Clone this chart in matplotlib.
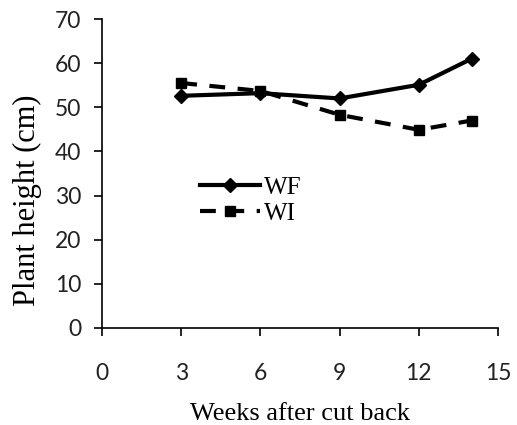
import matplotlib
matplotlib.use("Agg")
import matplotlib.pyplot as plt

weeks = [3, 6, 9, 12, 14]
wf = [52.6, 53.2, 52.0, 55.1, 61.0]
wi = [55.5, 53.7, 48.3, 44.9, 47.0]
xticks = [0, 3, 6, 9, 12, 15]
yticks = [0, 10, 20, 30, 40, 50, 60, 70]

fig = plt.figure(figsize=(5.17, 4.25), dpi=100)
ax = fig.add_axes([102/517, (425-328)/425, 396/517, 309/425])

ax.plot(weeks, wf, color='black', lw=3, marker='D', ms=7, label='WF')
ax.plot(weeks, wi, color='black', lw=3, ls=(0, (3.8, 3)), marker='s', ms=7, label='WI')

ax.set_xlim(0, 15)
ax.set_ylim(0, 70)
ax.set_xticks(xticks)
ax.set_yticks(yticks)
for s in ['top', 'right']:
    ax.spines[s].set_visible(False)
for s in ['left', 'bottom']:
    ax.spines[s].set_linewidth(1.2)
ax.tick_params(direction='out', length=6, width=1.2, labelsize=16.5)
ax.tick_params(axis='x', pad=19)
ax.tick_params(axis='y', pad=9)
for lbl in ax.get_xticklabels() + ax.get_yticklabels():
    lbl.set_family('Lato')
    lbl.set_color('#222222')

ax.set_xlabel('Weeks after cut back', family='Liberation Serif', fontsize=19)
ax.xaxis.set_label_coords(0.5, -0.243)
ax.set_ylabel('Plant height (cm)', family='Liberation Serif', fontsize=22)
ax.yaxis.set_label_coords(-0.152, 0.414)

leg = ax.legend(loc='upper left', bbox_to_anchor=(0.247, 0.49), frameon=False,
                prop={'family': 'Liberation Serif', 'size': 18},
                handlelength=2.4, handletextpad=0.15, labelspacing=0.12,
                borderpad=0, borderaxespad=0)

fig.savefig('out.png', dpi=100)
